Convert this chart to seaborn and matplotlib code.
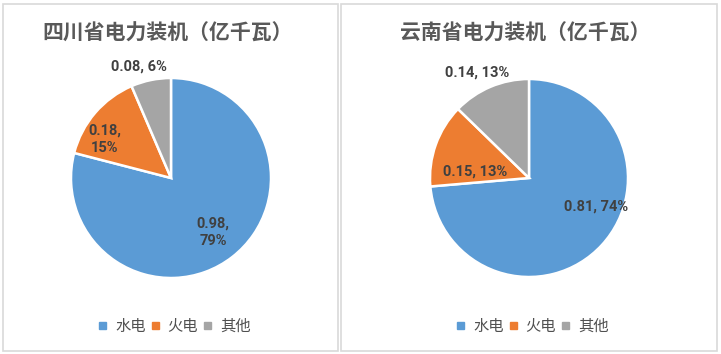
import matplotlib
matplotlib.use("Agg")
import matplotlib.pyplot as plt
import seaborn as sns
from matplotlib.patches import Rectangle

sns.set_theme(style="white")
plt.rcParams['font.family'] = ['Noto Sans CJK SC', 'DejaVu Sans']

# data
categories = ['水电', '火电', '其他']
sichuan_vals = [0.98, 0.18, 0.08]
sichuan_pct = ['79%', '15%', '6%']
yunnan_vals = [0.81, 0.15, 0.14]
yunnan_pct = ['74%', '13%', '13%']
titles = ['四川省电力装机（亿千瓦）', '云南省电力装机（亿千瓦）']

colors = ['#5B9BD5', '#ED7D31', '#A5A5A5']
W, H = 721, 354
fig = plt.figure(figsize=(W / 100, H / 100), dpi=100)

# panel frames (pixel coords, top-left origin)
for x0, x1 in [(3, 338), (341, 717)]:
    fig.patches.append(Rectangle((x0 / W, 1 - 351 / H), (x1 - x0) / W, 347 / H,
                                 transform=fig.transFigure, fill=False,
                                 edgecolor='#d9d9d9', linewidth=1.2))

panels = [
    dict(vals=sichuan_vals, pct=sichuan_pct, title=titles[0], cx=171, cy=178, r=100,
         tx=168, lab=[(0.42, -0.54, '\n'), (-0.66, 0.39, '\n'), (-0.32, 1.11, ' ')],
         leg_x=99),
    dict(vals=yunnan_vals, pct=yunnan_pct, title=titles[1], cx=529, cy=178, r=99,
         tx=525, lab=[(0.68, -0.29, ' '), (-0.54, 0.06, ' '), (-0.52, 1.07, ' ')],
         leg_x=457),
]

for p in panels:
    cx, cy, r = p['cx'], p['cy'], p['r']
    ax = fig.add_axes([(cx - r) / W, 1 - (cy + r) / H, 2 * r / W, 2 * r / H])
    ax.pie(p['vals'], colors=colors, startangle=90, counterclock=False, radius=1,
           wedgeprops=dict(edgecolor='white', linewidth=1.8))
    ax.set_xlim(-1, 1)
    ax.set_ylim(-1, 1)
    ax.set_aspect('equal')
    ax.axis('off')
    for (lx, ly, sep), v, pc in zip(p['lab'], p['vals'], p['pct']):
        ax.text(lx, ly, f'{v:.2f},{sep}{pc}', ha='center', va='center',
                fontsize=10.5, fontweight='bold', color='#404040',
                family=['Roboto', 'DejaVu Sans'], linespacing=1.3, clip_on=False)
    fig.text(p['tx'] / W, 1 - 33 / H, p['title'], ha='center', va='center',
             fontsize=15, color='#595959', fontweight='bold')
    # legend
    x = p['leg_x']
    for cat, col in zip(categories, colors):
        fig.patches.append(Rectangle((x / W, 1 - 329 / H), 7 / W, 7 / H,
                                     transform=fig.transFigure, color=col))
        fig.text((x + 16) / W, 1 - 326 / H, cat, ha='left', va='center',
                 fontsize=11, color='#505050')
        x += 52.5

fig.savefig('out.png', dpi=100)
